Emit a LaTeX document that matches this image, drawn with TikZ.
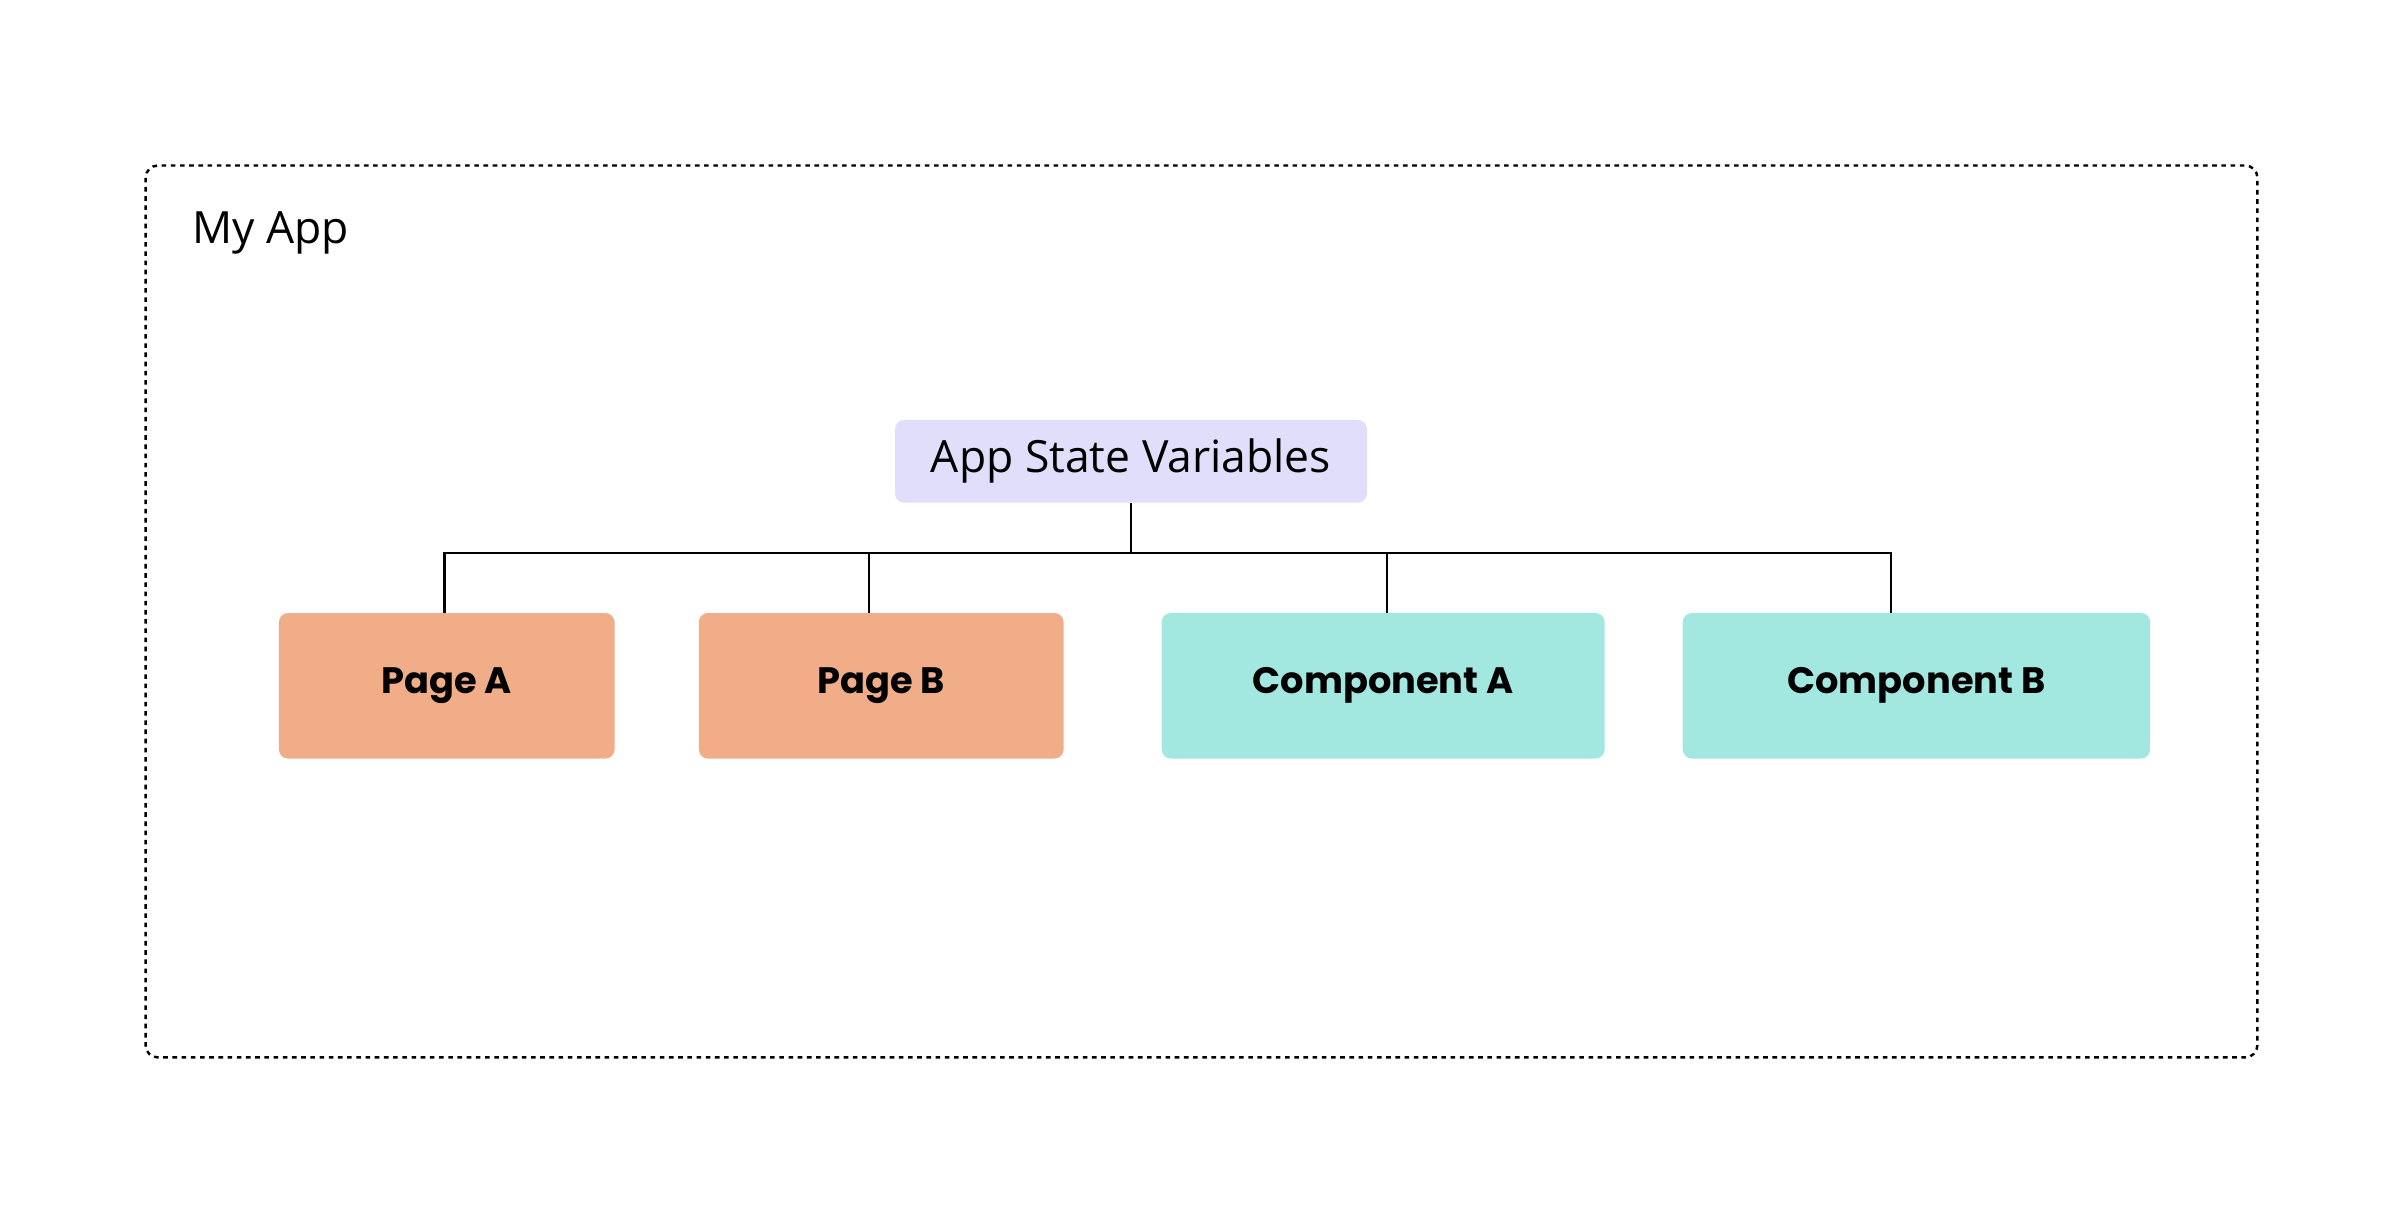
\documentclass[tikz,border=0pt]{standalone}
\usepackage{fontspec}
\setmainfont{Poppins}
\newfontfamily\titlefont{Open Sans}
\begin{document}
\begin{tikzpicture}[x=1pt,y=-1pt,
  box/.style={rounded corners=6pt,inner sep=0pt,font=\fontsize{24}{28}\selectfont\bfseries},
  page/.style={box,fill=pageC},
  comp/.style={box,fill=compC},
  link/.style={line width=1.6pt}]
\definecolor{pageC}{HTML}{F0AD88}
\definecolor{compC}{HTML}{A3E8E0}
\definecolor{stateC}{HTML}{E0DEFB}
\useasboundingbox (0,0) rectangle (1568,799);
\draw[dash pattern=on 3pt off 3pt,line width=1.6pt,rounded corners=8pt] (95,108) rectangle (1473,690);
\node[anchor=base west,font=\titlefont\fontsize{29}{34}\selectfont] (title) at (122,159) {My App};
\node[box,fill=stateC,minimum width=308pt,minimum height=54pt,font=\titlefont\fontsize{29}{34}\selectfont] (state) at (738,301) {App State Variables};
\node[page,minimum width=219pt,minimum height=95pt] (pa) at (291.5,447.5) {Page A};
\node[page,minimum width=238pt,minimum height=95pt] (pb) at (575,447.5) {Page B};
\node[comp,minimum width=289pt,minimum height=95pt] (ca) at (902.5,447.5) {Component A};
\node[comp,minimum width=305pt,minimum height=95pt] (cb) at (1250.5,447.5) {Component B};
\coordinate (bus) at (738,361);
\draw[link] (state.south) -- (bus);
\draw[link] (290,400) |- (bus) -| (1234,400);
\draw[link] (567,361) -- (567,400);
\draw[link] (905,361) -- (905,400);
\end{tikzpicture}
\end{document}
